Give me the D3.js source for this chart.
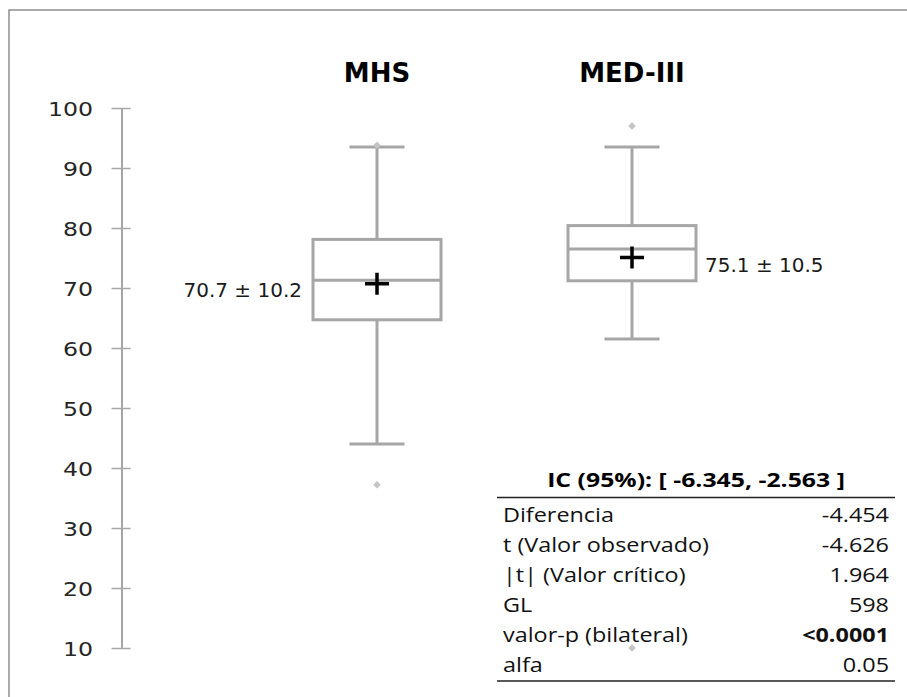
<!DOCTYPE html>
<html>
<head>
<meta charset="utf-8">
<script src="https://cdn.jsdelivr.net/npm/d3@7"></script>
<style>
  body { margin: 0; background: #fff; }
  svg { display: block; }
  text { font-family: "DejaVu Sans", sans-serif; }
</style>
</head>
<body>
<div id="chart"></div>
<script>
var width = 907,
    height = 697;

// box plot summaries
var groups = ["MHS", "MED-III"];
var whiskerLow = [44.0, 61.5];
var q1 = [64.7, 71.2];
var median = [71.3, 76.5];
var q3 = [78.1, 80.4];
var whiskerHigh = [93.5, 93.5];
var means = [70.7, 75.1];
var sds = [10.2, 10.5];
var outliers = [[37.2, 93.8], [97.0, 10.0]];

var yTicks = [10, 20, 30, 40, 50, 60, 70, 80, 90, 100];

// t-test table
var ciTitle = "IC (95%): [ -6.345, -2.563 ]";
var statLabels = ["Diferencia", "t (Valor observado)", "|t| (Valor crítico)", "GL", "valor-p (bilateral)", "alfa"];
var statValues = ["-4.454", "-4.626", "1.964", "598", "<0.0001", "0.05"];
var statBold = [false, false, false, false, true, false];

var boxColor = "#a6a6a6",
    outlierColor = "#c4c4c4";

var svg = d3.select("#chart").append("svg")
    .attr("width", width)
    .attr("height", height);

// outer frame
svg.append("path")
    .attr("d", "M9," + height + "V10H" + width)
    .attr("fill", "none")
    .attr("stroke", "#8f8f8f")
    .attr("stroke-width", 1.5);

var y = d3.scaleLinear().domain([10, 100]).range([648, 108]);
var x = d3.scalePoint().domain(groups).range([377, 632]);
var boxW = 128, capW = 55;

// y axis
var axis = svg.append("g")
    .attr("transform", "translate(121.5,0)")
    .call(d3.axisLeft(y).tickValues(yTicks).tickSize(0).tickPadding(0));
axis.select(".domain").attr("stroke", boxColor).attr("stroke-width", 2);
axis.selectAll(".tick text").remove();
axis.selectAll(".tick").append("line")
    .attr("x1", -10).attr("x2", 9)
    .attr("stroke", boxColor).attr("stroke-width", 1.5);
axis.selectAll(".tick").append("text")
    .attr("transform", "translate(-28.5,7.5) scale(1.18,1)")
    .attr("text-anchor", "end")
    .attr("fill", "#262626")
    .style("font-size", "20px")
    .text(function(d) { return d; });

// group titles
svg.selectAll(".title").data(groups).enter().append("text")
    .attr("class", "title")
    .attr("x", function(d) { return x(d); })
    .attr("y", 82)
    .attr("text-anchor", "middle")
    .style("font-size", "26px")
    .style("font-weight", "bold")
    .text(function(d) { return d; });

var boxes = svg.selectAll(".box").data(groups).enter().append("g")
    .attr("class", "box");

// whisker stems
boxes.append("line")
    .attr("x1", function(d) { return x(d); })
    .attr("x2", function(d) { return x(d); })
    .attr("y1", function(d, i) { return y(whiskerHigh[i]); })
    .attr("y2", function(d, i) { return y(whiskerLow[i]); })
    .attr("stroke", boxColor).attr("stroke-width", 3);

// caps
[whiskerHigh, whiskerLow].forEach(function(arr) {
  boxes.append("line")
      .attr("x1", function(d) { return x(d) - capW / 2; })
      .attr("x2", function(d) { return x(d) + capW / 2; })
      .attr("y1", function(d, i) { return y(arr[i]); })
      .attr("y2", function(d, i) { return y(arr[i]); })
      .attr("stroke", boxColor).attr("stroke-width", 3);
});

boxes.append("rect")
    .attr("x", function(d) { return x(d) - boxW / 2; })
    .attr("width", boxW)
    .attr("y", function(d, i) { return y(q3[i]); })
    .attr("height", function(d, i) { return y(q1[i]) - y(q3[i]); })
    .attr("fill", "#fff")
    .attr("stroke", boxColor).attr("stroke-width", 3);

boxes.append("line")
    .attr("x1", function(d) { return x(d) - boxW / 2; })
    .attr("x2", function(d) { return x(d) + boxW / 2; })
    .attr("y1", function(d, i) { return y(median[i]); })
    .attr("y2", function(d, i) { return y(median[i]); })
    .attr("stroke", boxColor).attr("stroke-width", 3);

// outliers
boxes.each(function(d, i) {
  d3.select(this).selectAll(".out").data(outliers[i]).enter().append("path")
      .attr("class", "out")
      .attr("d", d3.symbol().type(d3.symbolDiamond2).size(36))
      .attr("transform", function(v) { return "translate(" + x(d) + "," + y(v) + ")"; })
      .attr("fill", outlierColor);
});

// mean crosses
boxes.append("path")
    .attr("d", "M-12,0H12M0,-11V11")
    .attr("transform", function(d, i) { return "translate(" + x(d) + "," + y(means[i]) + ")"; })
    .attr("stroke", "#000").attr("stroke-width", 3.5);

// mean ± sd labels
boxes.append("text")
    .attr("x", function(d, i) { return i === 0 ? x(d) - boxW / 2 - 11 : x(d) + boxW / 2 + 9; })
    .attr("y", function(d, i) { return y(means[i]) + (i === 0 ? 13 : 14.5); })
    .attr("text-anchor", function(d, i) { return i === 0 ? "end" : "start"; })
    .attr("fill", "#1a1a1a")
    .style("font-size", "20px")
    .text(function(d, i) { return means[i].toFixed(1) + " ± " + sds[i].toFixed(1); });

// statistics table
var table = svg.append("g").attr("class", "stats");
var tLeft = 497, tRight = 895;

table.append("text")
    .attr("transform", "translate(" + ((tLeft + tRight) / 2) + ",487) scale(1.24,1)")
    .attr("text-anchor", "middle")
    .style("font-family", "'Open Sans', sans-serif")
    .style("font-size", "20px")
    .style("font-weight", "bold")
    .text(ciTitle);

[497.5, 681].forEach(function(ly) {
  table.append("line")
      .attr("x1", tLeft).attr("x2", tRight)
      .attr("y1", ly).attr("y2", ly)
      .attr("stroke", "#222").attr("stroke-width", 1.5);
});

var rows = table.selectAll(".row").data(statLabels).enter().append("g")
    .attr("class", "row")
    .attr("transform", function(d, i) { return "translate(0," + (522 + i * 30) + ")"; });

rows.append("text")
    .attr("transform", "translate(503,0) scale(1.2,1)")
    .style("font-family", "'Open Sans', sans-serif")
    .style("font-size", "19.5px")
    .attr("fill", "#111")
    .text(function(d) { return d; });

rows.append("text")
    .attr("transform", "translate(889,0) scale(1.2,1)")
    .attr("text-anchor", "end")
    .style("font-family", "'Open Sans', sans-serif")
    .style("font-size", "19.5px")
    .style("font-weight", function(d, i) { return statBold[i] ? "bold" : "normal"; })
    .attr("fill", "#111")
    .text(function(d, i) { return statValues[i]; });
</script>
</body>
</html>
